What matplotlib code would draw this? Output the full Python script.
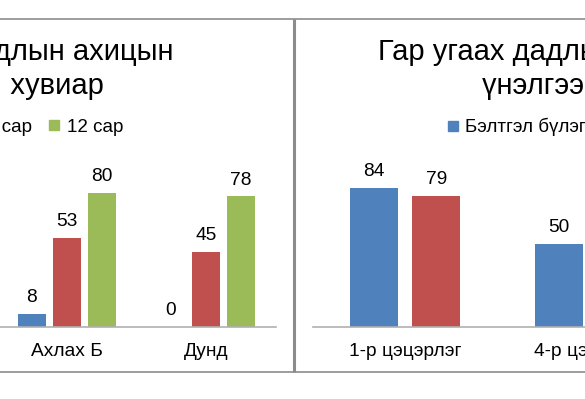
import numpy as np
import matplotlib.pyplot as plt
from matplotlib.lines import Line2D

plt.rcParams['font.family'] = ['Liberation Sans', 'DejaVu Sans']

W, H = 585, 399

# left chart (progress by group)
left_categories = ['Ахлах Б', 'Дунд']
left_series = ['0 сар', '6 сар', '12 сар']
left_values = [[8, 0], [53, 45], [80, 78]]

# right chart (by kindergarten)
right_categories = ['1-р цэцэрлэг', '4-р цэцэрлэг']
right_series = ['Бэлтгэл бүлэг', 'Дунд бүлэг']
right_values = [[84, 50], [79, np.nan]]

colors = ['#4F81BD', '#C0504D', '#9BBB59']
frame_col = '#8c8c8c'


def px_box(x0, y_base, width, height):
    return [x0 / W, (H - y_base) / H, width / W, height / H]


def draw(ax, cats, vals, names, width, step):
    x = np.arange(len(cats))
    n = len(vals)
    for i, (v, name) in enumerate(zip(vals, names)):
        pos = x + (i - (n - 1) / 2) * step
        ax.bar(pos, v, width, color=colors[i], label=name)
        for p, val in zip(pos, v):
            if np.isfinite(val):
                ax.annotate(f'{val:g}', (p, val), xytext=(0, 8.5),
                            textcoords='offset points', ha='center',
                            va='baseline', fontsize=13.8)
    ax.set_xlim(-0.5, len(cats) - 0.5)
    ax.set_ylim(0, 100)
    ax.set_xticks(x, cats, fontsize=13.8)
    ax.tick_params(axis='x', length=0, pad=11.5)
    ax.set_yticks([])
    for s in ['left', 'right', 'top']:
        ax.spines[s].set_visible(False)
    ax.spines['bottom'].set_color('#b0b0b0')
    ax.spines['bottom'].set_linewidth(1.2)
    ax.patch.set_visible(False)


fig = plt.figure(figsize=(5.85, 3.99), dpi=100)

ax1 = fig.add_axes(px_box(-2.5, 327, 278, 167.5))
draw(ax1, left_categories, left_values, left_series, 0.2, 0.252)

ax2 = fig.add_axes(px_box(312.5, 327, 370, 166))
draw(ax2, right_categories, right_values, right_series, 0.26, 0.338)

# panel frames
for y in [18.5, 372]:
    fig.add_artist(Line2D([0, 1], [1 - y / H, 1 - y / H], transform=fig.transFigure,
                          color=frame_col, lw=1.2))
fig.add_artist(Line2D([293.5 / W, 293.5 / W], [1 - 18.5 / H, 1 - 372 / H],
                      transform=fig.transFigure, color=frame_col, lw=2.2,
                      solid_capstyle='butt'))

# titles
fig.text(173 / W, 1 - 60 / H, 'Гар угаах дадлын ахицын', ha='right', va='baseline', fontsize=21)
fig.text(104 / W, 1 - 94 / H, 'үнэлгээ, хувиар', ha='right', va='baseline', fontsize=21)
fig.text(378 / W, 1 - 60 / H, 'Гар угаах дадлын ахицын', ha='left', va='baseline', fontsize=21)
fig.text(482 / W, 1 - 94 / H, 'үнэлгээ, хувиар', ha='left', va='baseline', fontsize=21)


def handles(n):
    return [Line2D([], [], marker='s', ls='none', color=colors[i], markersize=6.5) for i in range(n)]


fig.legend(handles(3), left_series, loc='center right', bbox_to_anchor=(123 / W, 1 - 127 / H),
           ncol=3, frameon=False, fontsize=13.5, borderpad=0, borderaxespad=0,
           handlelength=0.5, handletextpad=0.45, columnspacing=0.9)
fig.legend(handles(2), right_series, loc='center left', bbox_to_anchor=(448 / W, 1 - 127 / H),
           ncol=2, frameon=False, fontsize=13.5, borderpad=0, borderaxespad=0,
           handlelength=0.5, handletextpad=0.4, columnspacing=0.9)

fig.savefig('out.png', dpi=100)
